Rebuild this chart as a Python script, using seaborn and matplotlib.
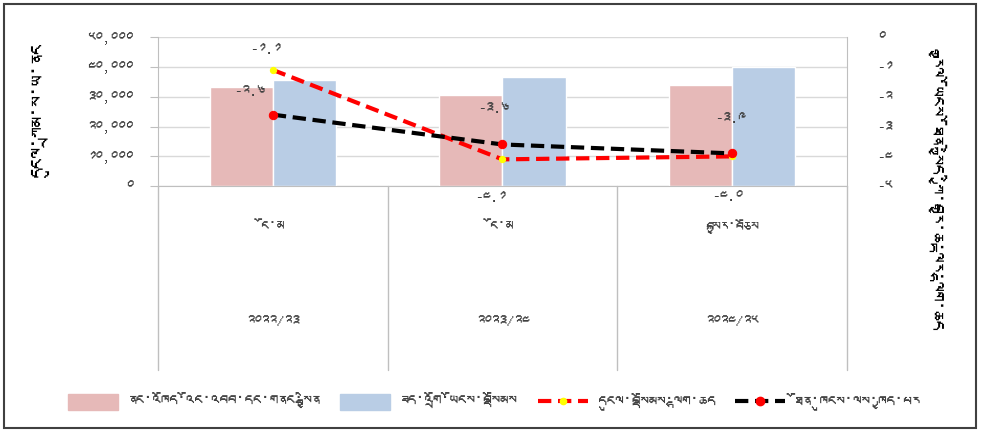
import numpy as np
import pandas as pd
import seaborn as sns
import matplotlib.pyplot as plt
from matplotlib import font_manager
from matplotlib.patches import Patch, Rectangle
from matplotlib.lines import Line2D

# values (Nu. million and % of GDP)
years = ["༢༠༢༢/༢༣", "༢༠༢༣/༢༤", "༢༠༢༤/༢༥"]
stages = ["ངོ་མ", "ངོ་མ", "བསྐྱར་བཅོས"]
revenue = [33300, 30500, 33900]
expenditure = [35600, 36700, 40000]
fiscal_balance = [-1.1, -4.1, -4.0]
primary_balance = [-2.6, -3.6, -3.9]

series_names = ["ནང་འཁོད་འོང་འབབ་དང་གནང་སྦྱིན", "ཟད་འགྲོ་ཡོངས་བསྡོམས",
                "དངུལ་བསྡོམས་ལྷག་ཆད", "ཐོན་ཁུངས་ལས་ཁྱད་པར"]
left_label = "དངུལ་ཀྲམ་ས་ཡ་ནང"
right_label = "རྒྱལ་ཡོངས་ཐོན་སྐྱེད་ཀྱི་བརྒྱ་ཆ་ལྟར་ལྷག་ཆད"

left_ticks = [0, 10000, 20000, 30000, 40000, 50000]
left_ticklabels = ["༠", "༡༠,༠༠༠", "༢༠,༠༠༠", "༣༠,༠༠༠", "༤༠,༠༠༠", "༥༠,༠༠༠"]
right_ticks = [0, -1, -2, -3, -4, -5]
right_ticklabels = ["༠", "-༡", "-༢", "-༣", "-༤", "-༥"]

TIB_DIGITS = "༠༡༢༣༤༥༦༧༨༩"


def tib_num(v):
    s = f"{v:.1f}"
    return "".join(TIB_DIGITS[int(c)] if c.isdigit() else c for c in s)


def find_tibetan_font():
    try:
        from fontTools.ttLib import TTFont
    except ImportError:
        return None
    for entry in font_manager.fontManager.ttflist:
        try:
            font = TTFont(entry.fname, fontNumber=0, lazy=True)
            cmap = font.getBestCmap()
        except Exception:
            continue
        if cmap and 0x0F40 in cmap and 0x0F22 in cmap:
            return entry.name
    return None


sns.set_style("white")
tib = find_tibetan_font()
plt.rcParams["font.family"] = [tib, "DejaVu Sans"] if tib else ["DejaVu Sans"]

pink = "#E6B9B8"
blue = "#B9CDE5"
grey = "#BFBFBF"
txt = "#404040"
dash = (0, (3.2, 1.6))

bars = pd.DataFrame({
    "year": years * 2,
    "value": revenue + expenditure,
    "series": [series_names[0]] * 3 + [series_names[1]] * 3,
})

fig = plt.figure(figsize=(9.88, 4.32), dpi=100)
ax = fig.add_axes([0.160, 0.569, 0.697, 0.345])

sns.barplot(data=bars, x="year", y="value", hue="series", palette=[pink, blue],
            width=0.55, saturation=1, ax=ax, legend=False, zorder=2)
ax.set_xlim(-0.5, 2.5)
ax.set_ylim(0, 50000)
ax.set_yticks(left_ticks)
ax.set_yticklabels(left_ticklabels, fontsize=11, color=txt)
ax.tick_params(axis="y", length=6, pad=12, color=grey, direction="out")
ax.set_xticks([])
ax.set_xlabel("")
ax.set_ylabel("")
ax.yaxis.grid(True, color="#D9D9D9", lw=1, zorder=0)
ax.set_axisbelow(True)
for side in ["top", "right"]:
    ax.spines[side].set_visible(False)
ax.spines["left"].set_color(grey)
ax.spines["bottom"].set_color(grey)

ax2 = ax.twinx()
xpos = np.arange(len(years))
sns.lineplot(x=xpos, y=fiscal_balance, ax=ax2, color="#FF0000", lw=3,
             linestyle=dash, marker="o", markersize=4.5,
             markerfacecolor="#FFFF00", markeredgecolor="#FFFF00", zorder=3)
sns.lineplot(x=xpos, y=primary_balance, ax=ax2, color="black", lw=3,
             linestyle=dash, marker="o", markersize=6,
             markerfacecolor="#FF0000", markeredgecolor="#FF0000", zorder=4)
ax2.set_ylim(-5, 0)
ax2.set_yticks(right_ticks)
ax2.set_yticklabels(right_ticklabels, fontsize=11, color=txt)
ax2.tick_params(axis="y", length=0, pad=22)
for side in ["top", "left", "bottom"]:
    ax2.spines[side].set_visible(False)
ax2.spines["right"].set_color(grey)
ax2.set_xlim(-0.5, 2.5)

# data labels (offsets in pixels)
fb_offsets = [(-7, 20), (-12, -38), (-5, -40)]
pb_offsets = [(-23, 23), (-9, 36), (-2, 35)]
for i in range(len(years)):
    ax2.annotate(tib_num(fiscal_balance[i]), (xpos[i], fiscal_balance[i]),
                 xytext=fb_offsets[i], textcoords="offset pixels",
                 ha="center", va="center", fontsize=11, color=txt, zorder=6)
    ax2.annotate(tib_num(primary_balance[i]), (xpos[i], primary_balance[i]),
                 xytext=pb_offsets[i], textcoords="offset pixels",
                 ha="center", va="center", fontsize=11, color=txt, zorder=6)

# two-level category axis
tr = ax.get_xaxis_transform()
for b in np.arange(-0.5, len(years), 1.0):
    ax.plot([b, b], [0, -1.235], transform=tr, color=grey, lw=1, clip_on=False)
for i in range(len(years)):
    ax.text(i, -0.28, stages[i], transform=tr, ha="center", va="center",
            fontsize=11, color=txt)
    ax.text(i, -0.91, years[i], transform=tr, ha="center", va="center",
            fontsize=11, color=txt)

fig.text(40 / 988, 1 - 110 / 432, left_label, rotation=90, ha="center",
         va="center", fontsize=15, color="black")
fig.text(945 / 988, 1 - 185 / 432, right_label, rotation=270, ha="center",
         va="center", fontsize=14, color="black")

handles = [
    Patch(facecolor=pink, edgecolor=pink),
    Patch(facecolor=blue, edgecolor=blue),
    Line2D([], [], color="#FF0000", lw=3, linestyle=dash, marker="o",
           markersize=4.5, markerfacecolor="#FFFF00", markeredgecolor="#FFFF00"),
    Line2D([], [], color="black", lw=3, linestyle=dash, marker="o",
           markersize=6, markerfacecolor="#FF0000", markeredgecolor="#FF0000"),
]
fig.legend(handles, series_names, loc="center", bbox_to_anchor=(0.5, 1 - 402 / 432),
           ncol=4, frameon=False, fontsize=12, handlelength=3.0, handleheight=1.1,
           handletextpad=0.6, columnspacing=1.2, labelcolor=txt)

fig.patches.append(Rectangle((4 / 988, 4 / 432), 972 / 988, 424 / 432,
                             transform=fig.transFigure, fill=False,
                             edgecolor="#404040", lw=1.5))

fig.savefig("out.png", dpi=100, facecolor="white")
